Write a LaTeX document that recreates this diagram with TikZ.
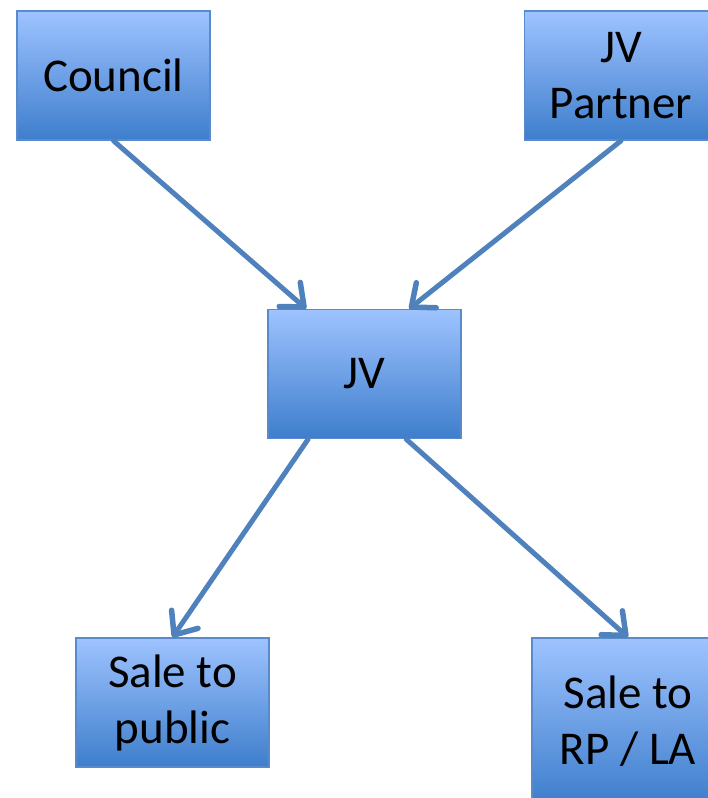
\documentclass[tikz,border=0pt]{standalone}
\usepackage{fontspec}
\setmainfont{Carlito}
\usetikzlibrary{arrows.meta,calc}
\definecolor{boxtop}{RGB}{158,195,255}
\definecolor{boxbot}{RGB}{62,126,204}
\definecolor{boxline}{RGB}{88,138,204}
\definecolor{arrowblue}{RGB}{79,129,189}
\tikzset{
  flowbox/.style={draw=boxline, line width=1.5pt, top color=boxtop, bottom color=boxbot,
    minimum width=193pt, minimum height=129pt, inner sep=0pt, align=center,
    font=\fontsize{47}{56}\selectfont},
  link/.style={draw=arrowblue, line width=5pt, line cap=round,
    -{Straight Barb[length=19pt,width=32pt,round,line width=5.5pt]}}
}
\begin{document}
\begin{tikzpicture}[x=1pt,y=-1pt]
  \useasboundingbox (0,0) rectangle (708,798);
  \begin{scope}
  \clip (0,0) rectangle (708,798);
  \node[flowbox] (council) at (113.5,75.5) {Council};
  \node[flowbox] (partner) at (621,75.5) {JV\\Partner};
  \node[flowbox] (jv) at (364.5,374) {JV};
  \node[flowbox] (public) at (172.5,702.5) {Sale to\\public};
  \node[flowbox, minimum width=192pt, minimum height=166pt] (rpla) at (628,721) {Sale to\\RP / LA};
  \end{scope}
  \draw[link] (council.south) -- ($(jv.north west)!0.2!(jv.north east)$);
  \draw[link] (partner.south) -- ($(jv.north west)!0.73!(jv.north east)$);
  \draw[link] ($(jv.south west)!0.21!(jv.south east)$) -- (public.north);
  \draw[link] ($(jv.south west)!0.715!(jv.south east)$) -- (rpla.north);
\end{tikzpicture}
\end{document}
